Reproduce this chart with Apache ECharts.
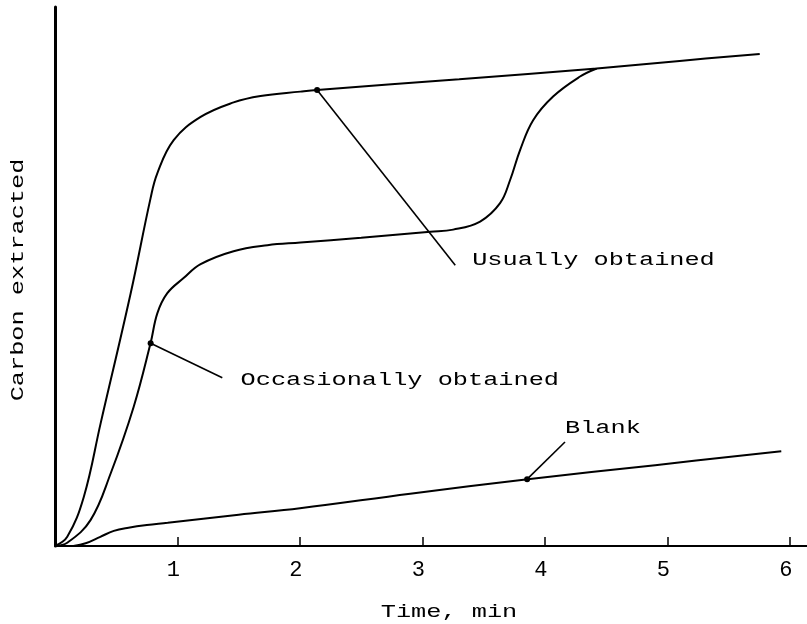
<!DOCTYPE html>
<html><head><meta charset="utf-8">
<script src="https://cdn.jsdelivr.net/npm/echarts@6/dist/echarts.min.js"></script>
<style>html,body{margin:0;padding:0;background:#fff}#c{width:807px;height:624px}</style>
</head><body><div id="c"></div>
<script>
// ---- data (time in min, carbon extracted in arbitrary units) ----
const xTicks = [1, 2, 3, 4, 5, 6];
const usuallyObtained = [[0,0],[0.10,1.7],[0.235,9.1],[0.373,22.8],[0.618,46.9],[0.78,64.5],[0.836,69.2],[0.969,75.3],[1.189,79.6],[1.458,82.3],[1.678,83.5],[2.004,84.3],[2.14,84.6],[3.3,86.6],[4.423,88.6],[5.1,90.0],[5.754,91.3]];
const occasionallyObtained = [[0,0],[0.10,0.6],[0.29,4.8],[0.455,13.5],[0.642,25.8],[0.781,37.7],[0.836,43.2],[0.917,46.9],[1.05,49.7],[1.189,52.3],[1.458,54.7],[1.735,55.8],[2.004,56.3],[2.5,57.2],[3.064,58.3],[3.251,58.7],[3.471,60.2],[3.634,63.6],[3.716,67.9],[3.798,73.5],[3.904,79.0],[4.067,83.4],[4.287,87.1],[4.423,88.6]];
const blank = [[0.15,0],[0.25,0.5],[0.37,1.7],[0.48,2.8],[0.6,3.4],[0.75,3.9],[0.92,4.3],[1.5,5.8],[2.0,7.0],[2.9,9.7],[3.86,12.4],[4.9,15.0],[5.93,17.6]];
const annotationTexts = ['Usually obtained', 'Occasionally obtained', 'Blank'];
const leaderStarts = [[2.14,84.6],[0.781,37.6],[3.855,12.4]];
const leaderEnds = [[3.268,52.1],[1.366,31.2],[4.164,19.3]];
const labelAnchors = [[3.406,53.1],[1.515,30.8],[4.164,21.9]];
const xAxisName = 'Time, min';
const yAxisName = 'Carbon extracted';

const FONT = 'Liberation Mono, DejaVu Sans Mono, monospace';
const chart = echarts.init(document.getElementById('c'), null, {renderer: 'canvas'});

const curveStyle = {color: '#000', width: 2};
const series = [
  {type: 'line', data: usuallyObtained, smooth: 0.4, showSymbol: false, lineStyle: curveStyle, z: 3},
  {type: 'line', data: occasionallyObtained, smooth: 0.4, showSymbol: false, lineStyle: curveStyle, z: 3},
  {type: 'line', data: blank, smooth: 0.4, showSymbol: false, lineStyle: curveStyle, z: 3}
];
leaderStarts.forEach((s, i) => {
  series.push({
    type: 'line', data: [s, leaderEnds[i]], showSymbol: true, symbol: 'circle',
    symbolSize: (v, p) => p.dataIndex === 0 ? 6 : 0,
    itemStyle: {color: '#000'}, lineStyle: {color: '#000', width: 1.6}, z: 4
  });
});

chart.setOption({
  animation: false,
  backgroundColor: '#fff',
  grid: {left: 55, right: 0, top: 7, bottom: 78, containLabel: false},
  xAxis: {
    type: 'value', min: 0, max: 6.14,
    axisLine: {show: true, lineStyle: {color: '#000', width: 2}},
    axisTick: {show: true, inside: true, length: 9, customValues: xTicks, lineStyle: {color: '#000', width: 1.5}},
    axisLabel: {show: true, customValues: xTicks, color: '#000', fontFamily: FONT, fontSize: 22, margin: 13, padding: [0, 8, 0, 0]},
    splitLine: {show: false}
  },
  yAxis: {
    type: 'value', min: 0, max: 100,
    axisLine: {show: true, lineStyle: {color: '#000', width: 3}},
    axisTick: {show: false}, axisLabel: {show: false}, splitLine: {show: false}
  },
  series: series
});

const graphics = labelAnchors.map((a, i) => {
  const p = chart.convertToPixel({gridIndex: 0}, a);
  return {type: 'text', x: p[0], y: p[1], scaleX: 1.33,
    style: {text: annotationTexts[i], font: '19px ' + FONT, fill: '#000', textAlign: 'left', textVerticalAlign: 'middle'}};
});
graphics.push({type: 'text', x: 449, y: 612, scaleX: 1.33,
  style: {text: xAxisName, font: '19px ' + FONT, fill: '#000', textAlign: 'center', textVerticalAlign: 'middle'}});
graphics.push({type: 'text', x: 18, y: 280, rotation: Math.PI / 2, scaleX: 1.33,
  style: {text: yAxisName, font: '19px ' + FONT, fill: '#000', textAlign: 'center', textVerticalAlign: 'middle'}});
chart.setOption({graphic: graphics});
</script>
</body></html>
